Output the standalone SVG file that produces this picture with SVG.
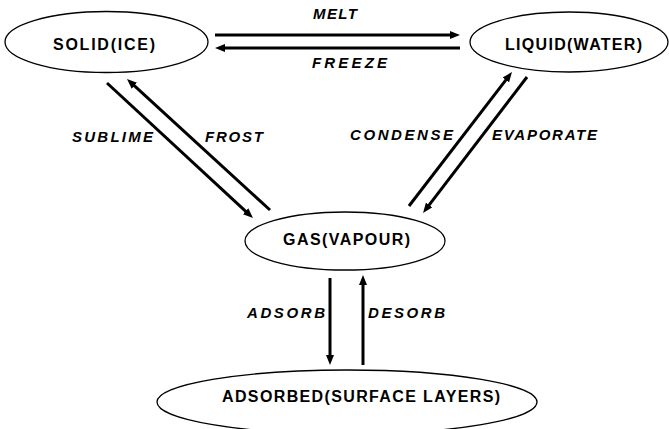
<svg xmlns="http://www.w3.org/2000/svg" width="669" height="429" viewBox="0 0 669 429">
<style>
.node{fill:#fff;stroke:#000;stroke-width:1.3}
.nl{font-family:"Liberation Sans",Arial,sans-serif;font-weight:bold;font-size:16px;fill:#000}
.al{font-family:"Liberation Sans",Arial,sans-serif;font-weight:bold;font-style:italic;font-size:15px;fill:#000}
.arr{stroke:#000;stroke-width:3;fill:none;marker-end:url(#ah)}
</style>
<defs>
<marker id="ah" viewBox="0 0 10 8" refX="2" refY="4" markerWidth="10" markerHeight="8" markerUnits="userSpaceOnUse" orient="auto">
<path d="M0,0 L10,4 L0,8 z" fill="#000"/>
</marker>
</defs>
<rect width="669" height="429" fill="#fff"/>
<g id="solid">
<ellipse class="node" cx="106.5" cy="42" rx="101.5" ry="30.5"/>
<text class="nl" x="53" y="50" textLength="102" lengthAdjust="spacing">SOLID(ICE)</text>
</g>
<g id="liquid">
<ellipse class="node" cx="569" cy="42" rx="99" ry="30"/>
<text class="nl" x="505" y="50" textLength="137" lengthAdjust="spacing">LIQUID(WATER)</text>
</g>
<g id="gas">
<ellipse class="node" cx="345" cy="241" rx="100" ry="29"/>
<text class="nl" x="283" y="245" textLength="127" lengthAdjust="spacing">GAS(VAPOUR)</text>
</g>
<g id="adsorbed">
<ellipse class="node" cx="347" cy="402" rx="190" ry="32"/>
<text class="nl" x="222" y="402" textLength="278" lengthAdjust="spacing">ADSORBED(SURFACE LAYERS)</text>
</g>
<g id="connectors">
<line class="arr" x1="215" y1="35" x2="452" y2="35"/>
<line class="arr" x1="460" y1="48" x2="223" y2="48"/>
<line class="arr" x1="107" y1="83" x2="247.1" y2="212.6"/>
<line class="arr" x1="270" y1="210" x2="132.9" y2="84.4"/>
<line class="arr" x1="409" y1="206" x2="507.1" y2="78.3"/>
<line class="arr" x1="527" y1="77" x2="427.9" y2="206.6"/>
<line class="arr" x1="330" y1="278" x2="330" y2="357"/>
<line class="arr" x1="363" y1="365" x2="363" y2="283"/>
<text class="al" x="313" y="19" textLength="44" lengthAdjust="spacing">MELT</text>
<text class="al" x="312" y="68" textLength="75" lengthAdjust="spacing">FREEZE</text>
<text class="al" x="72" y="142" textLength="81" lengthAdjust="spacing">SUBLIME</text>
<text class="al" x="205" y="142" textLength="58" lengthAdjust="spacing">FROST</text>
<text class="al" x="350" y="140" textLength="103" lengthAdjust="spacing">CONDENSE</text>
<text class="al" x="492" y="140" textLength="105" lengthAdjust="spacing">EVAPORATE</text>
<text class="al" x="247" y="318" textLength="78" lengthAdjust="spacing">ADSORB</text>
<text class="al" x="368" y="318" textLength="77" lengthAdjust="spacing">DESORB</text>
</g>
</svg>
